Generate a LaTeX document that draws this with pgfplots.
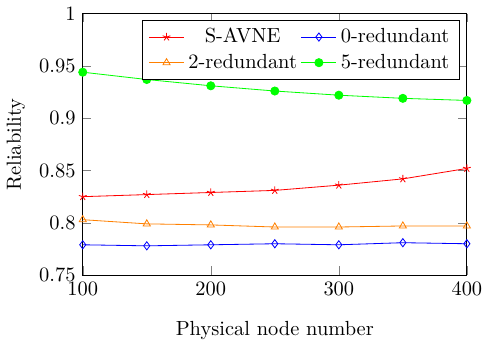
\documentclass[border=0pt]{standalone}
\usepackage{pgfplots}
\pgfplotsset{compat=1.18}
\begin{document}
\begin{tikzpicture}
\begin{axis}[
  scale only axis,
  width=188pt, height=128pt,
  xmin=100, xmax=400, ymin=0.75, ymax=1,
  xtick={100,200,300,400},
  ytick={0.75,0.8,0.85,0.9,0.95,1},
  yticklabels={0.75,0.8,0.85,0.9,0.95,1},
  major tick style={gray},
  xlabel={Physical node number},
  ylabel={Reliability},
  xlabel style={yshift=-6pt},
  legend columns=2,
  legend style={font=\normalsize, at={(0.982,0.977)}, anchor=north east},
]
\addplot[red, mark=star] coordinates {(100,0.825)(150,0.827)(200,0.829)(250,0.831)(300,0.836)(350,0.842)(400,0.852)};
\addlegendentry{S-AVNE}
\addplot[blue, mark=diamond] coordinates {(100,0.779)(150,0.778)(200,0.779)(250,0.780)(300,0.779)(350,0.781)(400,0.780)};
\addlegendentry{0-redundant}
\addplot[orange, mark=triangle] coordinates {(100,0.803)(150,0.799)(200,0.798)(250,0.796)(300,0.796)(350,0.797)(400,0.797)};
\addlegendentry{2-redundant}
\addplot[green, mark=*] coordinates {(100,0.944)(150,0.937)(200,0.931)(250,0.926)(300,0.922)(350,0.919)(400,0.917)};
\addlegendentry{5-redundant}
\end{axis}
\end{tikzpicture}
\end{document}
